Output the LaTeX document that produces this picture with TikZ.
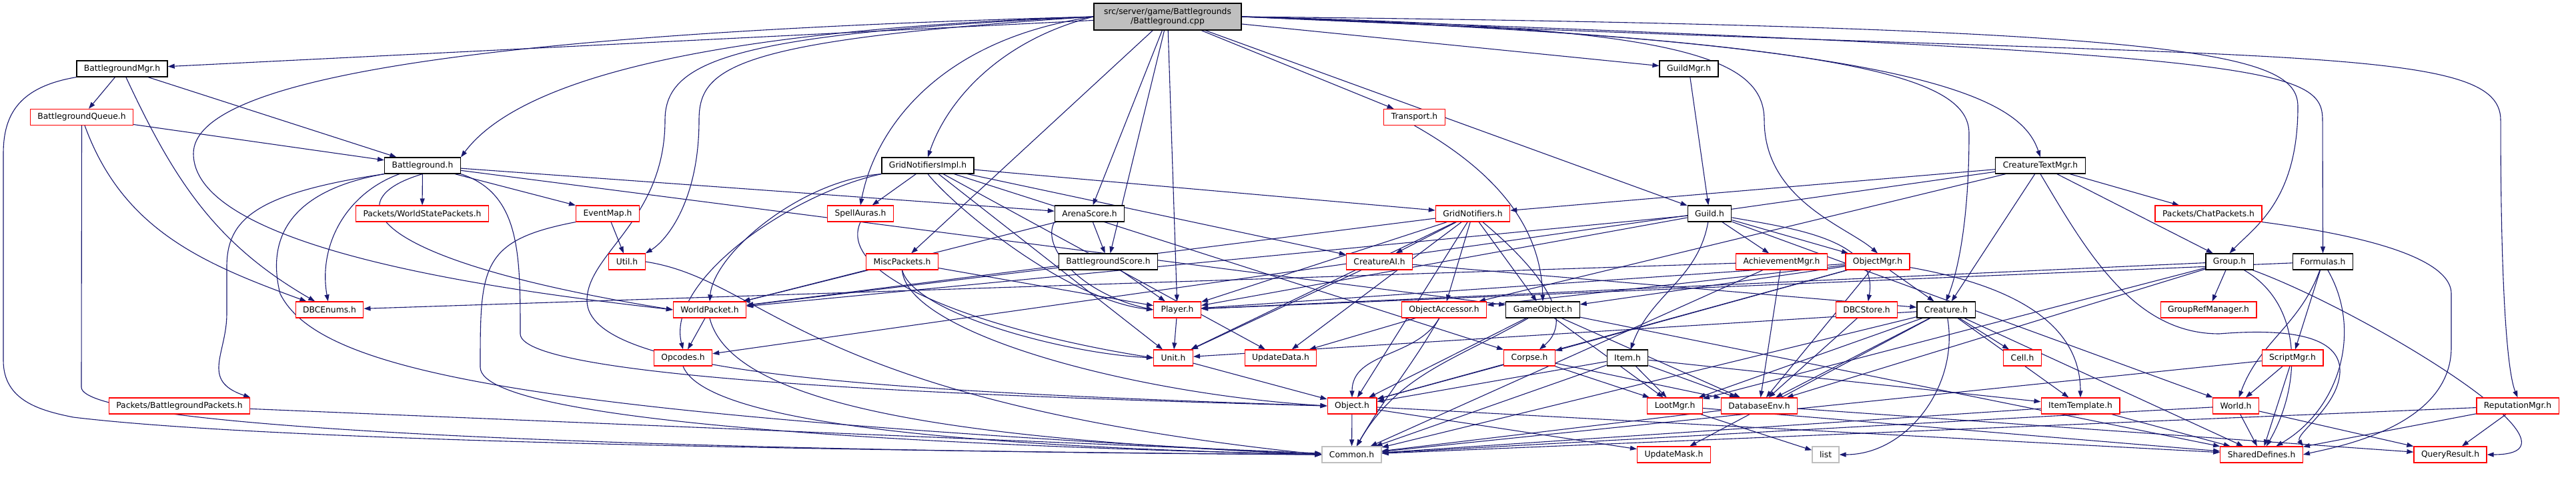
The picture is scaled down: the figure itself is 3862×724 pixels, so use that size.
\documentclass[tikz,border=0pt]{standalone}
\usepackage{fontspec}
\setmainfont{DejaVu Sans}
\usepackage{tikz}
\usetikzlibrary{arrows.meta}
\definecolor{incblue}{HTML}{191970}
\definecolor{sysgray}{HTML}{BFBFBF}
\pgfdeclarelayer{edges}
\pgfsetlayers{edges,main}

\begin{document}
\begin{tikzpicture}[%
		x=1pt,y=1pt,
		hdr/.style={draw=black,line width=1.2pt,fill=white,font=\fontsize{12.3}{14}\selectfont,
			minimum height=24pt,inner xsep=11pt,inner ysep=0pt},
		hdrred/.style={hdr,draw=red},
		hdrsys/.style={hdr,draw=sysgray},
		inc/.style={color=incblue,line width=1.1pt,-{Triangle[length=10pt,width=7pt]}},
		every edge/.style={draw,inc}]
	\useasboundingbox (0,0) rectangle (3862,-724);

	\node[hdr,fill=sysgray,align=center,minimum width=221pt,minimum height=40pt] (root) at (1750.5,-25)
		{src/server/game/Battlegrounds\\/Battleground.cpp};
	% row 1 and 2
	\node[hdr] (bgmgr) at (183,-103) {BattlegroundMgr.h};
	\node[hdr] (guildmgr) at (2532,-103) {GuildMgr.h};
	\node[hdrred] (bgqueue) at (122.5,-175.5) {BattlegroundQueue.h};
	\node[hdrred] (transport) at (2120.5,-175.5) {Transport.h};
	% row 3
	\node[hdr] (bg) at (633.5,-248) {Battleground.h};
	\node[hdr] (gnimpl) at (1391,-248) {GridNotifiersImpl.h};
	\node[hdr] (ctmgr) at (3059,-248) {CreatureTextMgr.h};
	% row 4
	\node[hdrred] (wspackets) at (633,-320) {Packets/WorldStatePackets.h};
	\node[hdrred] (eventmap) at (911,-320) {EventMap.h};
	\node[hdrred] (spellauras) at (1290,-320) {SpellAuras.h};
	\node[hdr] (arenascore) at (1633.5,-320) {ArenaScore.h};
	\node[hdrred] (gridnot) at (2208,-320) {GridNotifiers.h};
	\node[hdr] (guild) at (2563,-320) {Guild.h};
	\node[hdrred] (chatpackets) at (3311,-320) {Packets/ChatPackets.h};
	% row 5
	\node[hdrred] (util) at (940,-392) {Util.h};
	\node[hdrred] (miscpackets) at (1352.5,-392) {MiscPackets.h};
	\node[hdr] (bgscore) at (1661.5,-392) {BattlegroundScore.h};
	\node[hdrred] (creatureai) at (2068,-392) {CreatureAI.h};
	\node[hdrred] (achmgr) at (2671,-392) {AchievementMgr.h};
	\node[hdrred] (objmgr) at (2815,-392) {ObjectMgr.h};
	\node[hdr] (group) at (3342.5,-392) {Group.h};
	\node[hdr] (formulas) at (3482.5,-392) {Formulas.h};
	% row 6
	\node[hdrred] (dbcenums) at (494,-464) {DBCEnums.h};
	\node[hdrred] (worldpacket) at (1064,-464) {WorldPacket.h};
	\node[hdrred] (player) at (1765,-464) {Player.h};
	\node[hdrred] (objaccessor) at (2165,-464) {ObjectAccessor.h};
	\node[hdr] (gameobject) at (2313,-464) {GameObject.h};
	\node[hdrred] (dbcstore) at (2798.5,-464) {DBCStore.h};
	\node[hdr] (creature) at (2917.5,-464) {Creature.h};
	\node[hdrred] (grouprefmgr) at (3311,-464) {GroupRefManager.h};
	% row 7
	\node[hdrred] (opcodes) at (1024,-536) {Opcodes.h};
	\node[hdrred] (unit) at (1759,-536) {Unit.h};
	\node[hdrred] (updatedata) at (1920,-536) {UpdateData.h};
	\node[hdrred] (corpse) at (2293,-536) {Corpse.h};
	\node[hdr] (item) at (2440,-536) {Item.h};
	\node[hdrred] (cell) at (3032,-536) {Cell.h};
	\node[hdrred] (scriptmgr) at (3437,-536) {ScriptMgr.h};
	% row 8
	\node[hdrred] (bgpackets) at (269,-608) {Packets/BattlegroundPackets.h};
	\node[hdrred] (object) at (2027,-608) {Object.h};
	\node[hdrred] (lootmgr) at (2511,-608) {LootMgr.h};
	\node[hdrred] (dbenv) at (2637.5,-608) {DatabaseEnv.h};
	\node[hdrred] (itemtemplate) at (3119,-608) {ItemTemplate.h};
	\node[hdrred] (world) at (3352,-608) {World.h};
	\node[hdrred] (repmgr) at (3774.5,-608) {ReputationMgr.h};
	% row 9
	\node[hdrsys] (common) at (2026.5,-681) {Common.h};
	\node[hdrred] (updatemask) at (2509.5,-681) {UpdateMask.h};
	\node[hdrsys] (list) at (2737,-681) {list};
	\node[hdrred] (shareddef) at (3390.5,-681) {SharedDefines.h};
	\node[hdrred] (queryresult) at (3673.5,-681) {QueryResult.h};

	\begin{pgfonlayer}{edges}
	% from the source file
	\path (root) edge (bgmgr) edge (miscpackets) edge (arenascore) edge (bgscore)
		edge (player) edge (transport) edge (guild) edge (guildmgr);
	\draw[inc] (root.west) .. controls (1200,-40) and (800,-90) .. (bg.north east);
	\draw[inc] (root.west) .. controls (700,-50) and (290,-120) .. (290,-230)
		.. controls (290,-380) and (800,-440) .. (worldpacket.west);
	\draw[inc] (root.west) .. controls (1100,-60) and (1048,-100) .. (1048,-180)
		.. controls (1048,-300) and (1000,-360) .. (util.north east);
	\draw[inc] (root.west) .. controls (1100,-50) and (997,-90) .. (997,-180)
		.. controls (997,-330) and (880,-380) .. (880,-450)
		.. controls (880,-560) and (1300,-585) .. (object.west);
	\draw[inc] (root.west) .. controls (1400,-60) and (1310,-200) .. (spellauras.north);
	\draw[inc] (root.west) .. controls (1500,-60) and (1420,-150) .. (gnimpl.north);
	\draw[inc] (root.east) .. controls (2500,-40) and (2645,-80) .. (2645,-180)
		.. controls (2645,-300) and (2770,-340) .. (objmgr.north);
	\draw[inc] (root.east) .. controls (2800,-60) and (2952,-120) .. (2952,-200)
		.. controls (2952,-350) and (2930,-420) .. (creature.north);
	\draw[inc] (root.east) .. controls (2900,-60) and (3030,-150) .. (ctmgr.north);
	\draw[inc] (root.east) .. controls (3300,-40) and (3445,-80) .. (3445,-160)
		.. controls (3445,-300) and (3380,-340) .. (group.north);
	\draw[inc] (root.east) .. controls (3400,-80) and (3482,-100) .. (3482,-180) -- (formulas.north);
	\draw[inc] (root.east) .. controls (3400,-95) and (3749,-60) .. (3749,-180)
		.. controls (3749,-450) and (3760,-560) .. (repmgr.north);
	% left part
	\path (bgmgr) edge (bgqueue) edge (bg) edge[out=-65,in=150] (dbcenums);
	\draw[inc] (bgmgr.south west) .. controls (30,-130) and (5,-170) .. (5,-230) -- (5,-540)
		.. controls (5,-600) and (60,-615) .. (110,-625) .. controls (400,-660) and (1200,-675) .. (common.west);
	\path (bgqueue) edge (bg) edge[out=-70,in=160] (dbcenums);
	\draw[inc] (bgqueue.south) -- (122,-580) .. controls (122,-640) and (900,-675) .. (common.west);
	\path (bg) edge (wspackets) edge (eventmap) edge (arenascore) edge (gameobject)
		edge[out=200,in=100] (dbcenums);
	\draw[inc] (bg.south west) .. controls (380,-290) and (340,-330) .. (340,-400) -- (340,-470)
		.. controls (340,-530) and (300,-570) .. (bgpackets.north east);
	\draw[inc] (bg.south) .. controls (500,-300) and (550,-390) .. (worldpacket.west);
	\draw[inc] (bg.south west) .. controls (410,-290) and (405,-380) .. (420,-440)
		.. controls (480,-560) and (800,-620) .. (common.west);
	\draw[inc] (bg.south east) .. controls (780,-290) and (780,-380) .. (780,-500)
		.. controls (780,-560) and (1300,-590) .. (object.west);
	\path (eventmap) edge (util);
	\draw[inc] (eventmap.south west) .. controls (720,-360) and (720,-400) .. (720,-550)
		.. controls (720,-640) and (1500,-670) .. (common.west);
	\draw[inc] (util.east) .. controls (1150,-420) and (1200,-600) .. (common.west);
	\path (worldpacket) edge (opcodes);
	\draw[inc] (worldpacket.south) .. controls (1100,-620) and (1500,-660) .. (common.west);
	\draw[inc] (opcodes.south) .. controls (1060,-640) and (1500,-670) .. (common.west);
	\path (bgpackets) edge (common);
	% middle part
	\path (gnimpl) edge (gridnot) edge (spellauras) edge (updatedata) edge (creatureai)
		edge (corpse) edge (unit);
	\draw[inc] (gnimpl.south west) .. controls (1200,-270) and (1070,-380) .. (worldpacket.north);
	\draw[inc] (gnimpl.south west) .. controls (1186,-290) and (998,-420) .. (opcodes.north);
	\draw[inc] (gnimpl.south) .. controls (1430,-310) and (1600,-450) .. (player.west);
	\draw[inc] (spellauras.south) .. controls (1250,-420) and (1500,-500) .. (unit.west);
	\draw[inc] (arenascore.south west) .. controls (1560,-370) and (1620,-440) .. (player.west);
	\path (arenascore) edge (bgscore) edge (worldpacket);
	\path (bgscore) edge (player) edge (worldpacket);
	\path (miscpackets) edge (player) edge (worldpacket);
	\draw[inc] (miscpackets.south) .. controls (1370,-470) and (1600,-530) .. (unit.west);
	\draw[inc] (miscpackets.south) .. controls (1360,-500) and (1700,-590) .. (object.west);
	\path (player) edge (unit);
	\path (unit) edge (object);
	\draw[inc] (transport.south) .. controls (2230,-250) and (2310,-330) .. (gameobject.north);
	\path (gridnot) edge (creatureai) edge (objaccessor) edge (gameobject) edge (player)
		edge (unit) edge (updatedata) edge (object) edge (worldpacket)
		edge[out=-40,in=40] (corpse);
	\path (creatureai) edge (unit) edge (creature);
	\path (objaccessor) edge (updatedata) edge[out=-120,in=90] (object)
		edge[out=-120,in=60] (common);
	\path (gameobject) edge (object) edge (lootmgr) edge (dbenv) edge (shareddef)
		edge[out=-150,in=60] (common);
	\path (corpse) edge (object) edge (lootmgr) edge (dbenv);
	\path (item) edge (object) edge (lootmgr) edge (dbenv) edge (itemtemplate) edge (common);
	\path (object) edge (common) edge (updatemask) edge (shareddef);
	% right part
	\path (guildmgr) edge (guild);
	\path (guild) edge (achmgr) edge (objmgr) edge (world) edge (worldpacket) edge (player)
		edge[out=-100,in=70] (item) edge[out=-10,in=80] (dbcstore);
	\path (ctmgr) edge (creature) edge (chatpackets) edge (group) edge (gridnot)
		edge (objaccessor) edge (opcodes);
	\draw[inc] (ctmgr.south) .. controls (3130,-380) and (3200,-500) .. (3327,-500)
		.. controls (3450,-490) and (3510,-510) .. (3508,-558)
		.. controls (3505,-610) and (3440,-650) .. (shareddef.north east);
	\draw[inc] (chatpackets.south east) .. controls (3600,-360) and (3675,-400) .. (3675,-440) -- (3675,-520)
		.. controls (3675,-640) and (3500,-670) .. (shareddef.east);
	\path (achmgr) edge (dbenv) edge (dbcenums) edge (common);
	\path (objmgr) edge (creature) edge (dbenv) edge (objaccessor) edge (gameobject)
		edge (corpse) edge (object) edge (player) edge[out=-10,in=90] (itemtemplate);
	\path (dbcstore) edge (dbenv);
	\path (creature) edge (cell) edge (itemtemplate) edge (dbenv) edge (lootmgr) edge (common)
		edge (unit) edge (updatemask) edge (shareddef) edge[out=-80,in=0] (list);
	\path (group) edge (grouprefmgr) edge (lootmgr) edge (dbenv) edge (player)
		edge[out=-30,in=60] (shareddef) edge[out=-20,in=0] (queryresult);
	\path (formulas) edge (scriptmgr) edge (player) edge[out=-110,in=70] (world)
		edge[out=-60,in=30] (shareddef);
	\path (scriptmgr) edge (world) edge (shareddef) edge (common);
	\path (world) edge (shareddef) edge (queryresult) edge (common);
	\path (repmgr) edge (queryresult) edge (shareddef) edge (common);
	\path (lootmgr) edge (list) edge (shareddef);
	\path (dbenv) edge (common) edge (queryresult);
	\path (itemtemplate) edge (shareddef) edge (common);
	\end{pgfonlayer}
\end{tikzpicture}
\end{document}
